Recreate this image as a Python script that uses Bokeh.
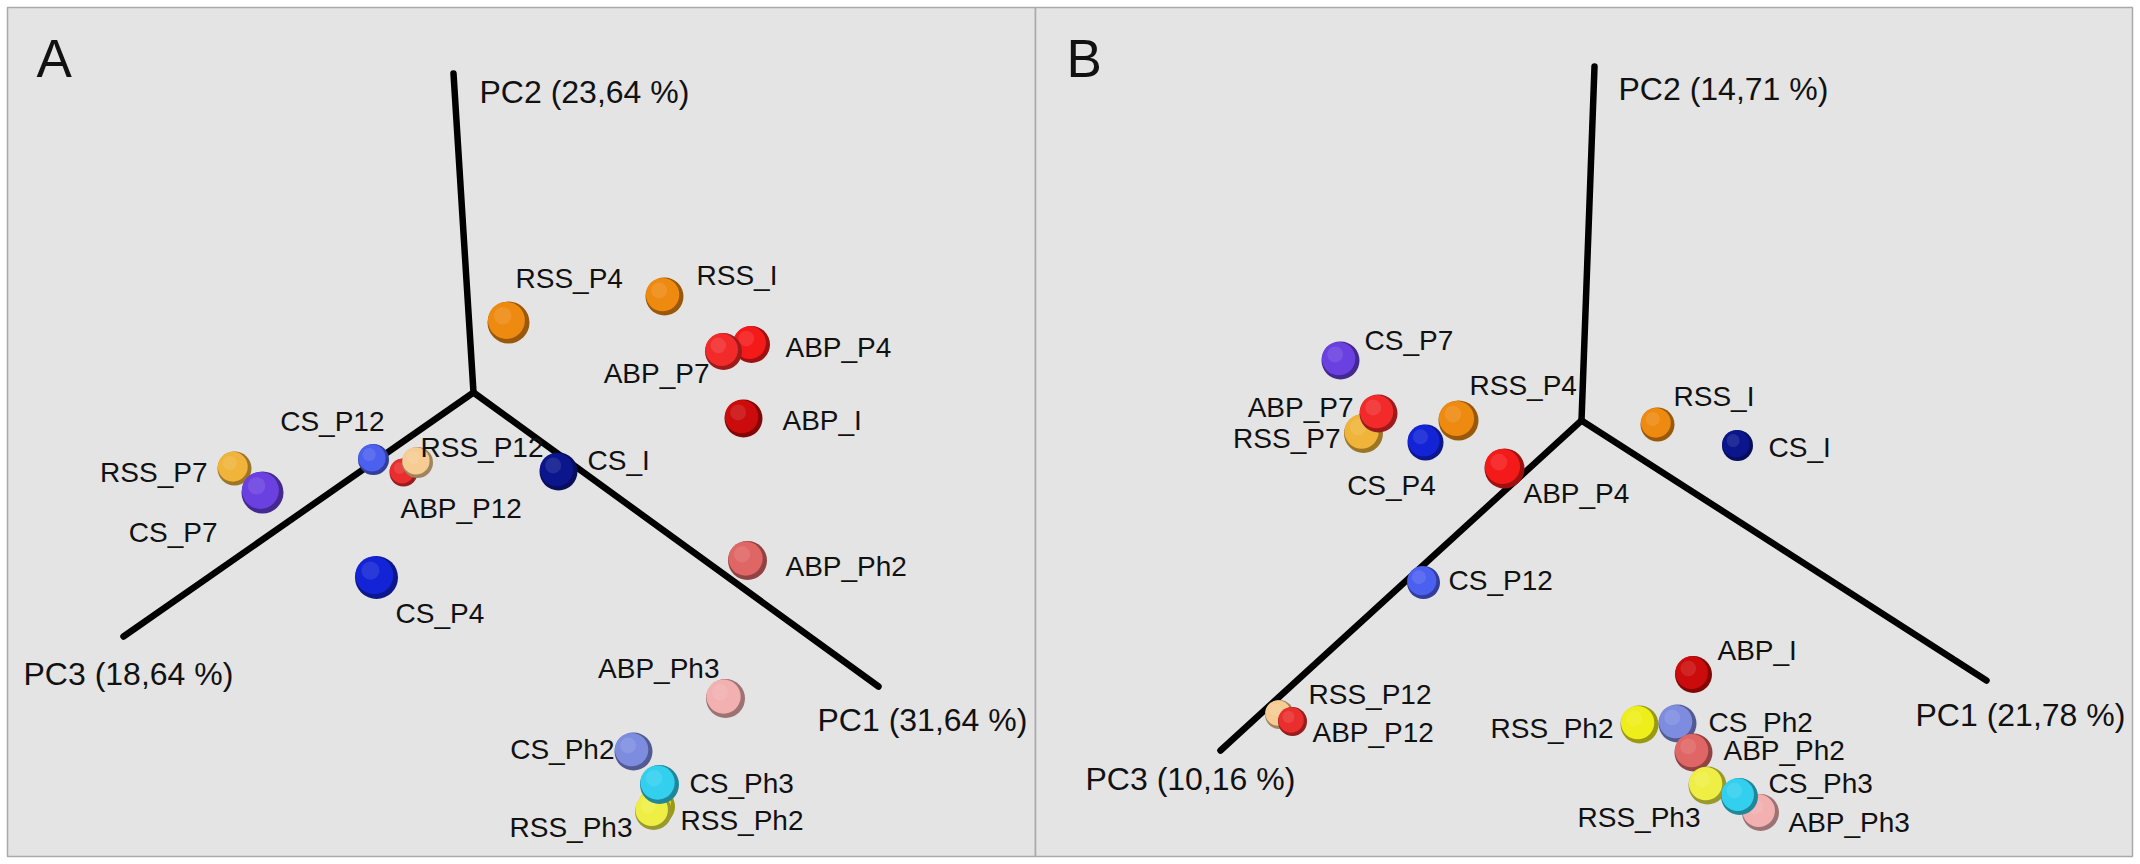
from bokeh.plotting import figure
from bokeh.models import Range1d, ColumnDataSource
from bokeh.core.properties import value
from bokeh.embed import file_html
from bokeh.resources import INLINE

# ---------------- data (projected PCoA positions) ----------------
# Panel A
samples_a = ["RSS_P7", "CS_P7", "CS_P12", "ABP_P12", "RSS_P12", "CS_P4", "CS_I", "RSS_P4",
             "RSS_I", "ABP_P4", "ABP_P7", "ABP_I", "ABP_Ph2", "ABP_Ph3", "CS_Ph2", "RSS_Ph2",
             "RSS_Ph3", "CS_Ph3"]
x_a = [234, 262, 373, 403, 417, 376, 558, 508, 664, 751, 723, 743, 747, 725, 633, 656, 653, 659]
y_a = [468, 492, 459, 472, 462, 577, 471, 322, 296, 344, 351, 418, 560, 698, 751, 806, 811, 784]
axis_names_a = ["PC1 (31,64 %)", "PC2 (23,64 %)", "PC3 (18,64 %)"]
origin_a = (473, 392)
axis_end_x_a = [878, 453, 123]
axis_end_y_a = [686, 73, 636]

# Panel B
samples_b = ["CS_P7", "RSS_P7", "ABP_P7", "CS_P4", "RSS_P4", "ABP_P4", "RSS_I", "CS_I", "CS_P12",
             "ABP_I", "RSS_P12", "ABP_P12", "RSS_Ph2", "CS_Ph2", "ABP_Ph2", "RSS_Ph3", "ABP_Ph3",
             "CS_Ph3"]
x_b = [1340, 1363, 1378, 1425, 1458, 1504, 1657, 1737, 1423, 1693, 1279, 1292, 1639, 1677, 1693,
       1707, 1760, 1739]
y_b = [360, 433, 413, 442, 420, 468, 424, 445, 582, 674, 714, 721, 724, 723, 752, 785, 812, 796]
axis_names_b = ["PC1 (21,78 %)", "PC2 (14,71 %)", "PC3 (10,16 %)"]
origin_b = (1581, 420)
axis_end_x_b = [1986, 1594, 1220]
axis_end_y_b = [680, 66, 750]

# ---------------- styles ----------------
sample_colors = {
    "ABP_I": "#cc0c0c", "ABP_P4": "#f51a1a", "ABP_P7": "#f22a2a", "ABP_P12": "#ea2d2d",
    "ABP_Ph2": "#e06666", "ABP_Ph3": "#f3b0b0",
    "CS_I": "#0c168c", "CS_P4": "#1224d6", "CS_P7": "#6a40e0", "CS_P12": "#4c60f0",
    "CS_Ph2": "#7e8ce0", "CS_Ph3": "#32d0ee",
    "RSS_I": "#ee8a10", "RSS_P4": "#ee8a10", "RSS_P7": "#f0b43a", "RSS_P12": "#f6cc92",
    "RSS_Ph2": "#eeee1a", "RSS_Ph3": "#eeee44",
}
size_a = [34, 42, 31, 28, 31, 43, 38, 42, 38, 37, 37, 38, 39, 39, 38, 37, 37, 39]
size_b = [38, 39, 38, 36, 40, 40, 34, 31, 33, 37, 29, 29, 38, 38, 38, 38, 37, 37]
# label placement (offset from sphere centre in px, alignment)
lab_a = [(-27, 4, "right"), (-45, 40, "right"), (11, -38, "right"), (-3, 36, "left"),
         (3, -15, "left"), (19, 36, "left"), (29, -11, "left"), (7, -44, "left"),
         (32, -21, "left"), (34, 3, "left"), (-14, 22, "right"), (39, 2, "left"),
         (38, 6, "left"), (-6, -30, "right"), (-19, -2, "right"), (24, 14, "left"),
         (-21, 16, "right"), (30, -1, "left")]
lab_b = [(24, -20, "left"), (-23, 5, "right"), (-25, -6, "right"), (-34, 43, "center"),
         (11, -35, "left"), (19, 25, "left"), (16, -28, "left"), (31, 2, "left"),
         (25, -2, "left"), (24, -24, "left"), (29, -20, "left"), (20, 11, "left"),
         (-26, 4, "right"), (31, -1, "left"), (30, -2, "left"), (-7, 32, "right"),
         (28, 10, "left"), (29, -13, "left")]
axis_lab_a = [(817, 719), (479, 91), (23, 673)]
axis_lab_b = [(1915, 714), (1618, 88), (1085, 778)]
panel_letters = [("A", 36, 58), ("B", 1066, 58)]
panel_left = [7, 1035]
panel_right = [1035, 2132]
panel_top = [7, 7]
panel_bottom = [856, 856]

FONT = value("Liberation Sans")
BG = "#e4e4e4"
FRAME = "#a9a9a9"


def shade(hex_color, f):
    h = hex_color.lstrip("#")
    r, g, b = (int(h[i:i + 2], 16) for i in (0, 2, 4))
    if f < 1:
        r, g, b = (int(c * f) for c in (r, g, b))
    else:
        t = f - 1
        r, g, b = (int(c + (255 - c) * t) for c in (r, g, b))
    return "#%02x%02x%02x" % (r, g, b)


W, H = 2136, 860
p = figure(width=W, height=H, output_backend="svg", toolbar_location=None,
           x_range=Range1d(0, W), y_range=Range1d(H, 0),
           min_border=0, min_border_left=0, min_border_right=0,
           min_border_top=0, min_border_bottom=0)
p.xaxis.visible = False
p.yaxis.visible = False
p.grid.visible = False
p.background_fill_color = "white"
p.border_fill_color = "white"
p.outline_line_color = None

# panel frames
p.quad(left=panel_left, right=panel_right, top=panel_top, bottom=panel_bottom,
       fill_color=BG, line_color=FRAME, line_width=1.5)


def draw_panel(samples, xs, ys, sizes, labs, origin, ex, ey, anames, alab):
    # axes arms
    p.segment(x0=[origin[0]] * 3, y0=[origin[1]] * 3, x1=ex, y1=ey,
              line_color="#000000", line_width=6.5, line_cap="round")
    p.text(x=[a[0] for a in alab], y=[a[1] for a in alab], text=anames,
           text_font=FONT, text_font_size="32px", text_color="#111111",
           text_align="left", text_baseline="middle")
    # spheres: interleave edge / body / highlight per sample so overlaps keep depth order
    sx, sy, ss, sc, sa = [], [], [], [], []
    for name, x, y, d in zip(samples, xs, ys, sizes):
        c = sample_colors[name]
        sx += [x, x - 0.05 * d, x - 0.14 * d]
        sy += [y, y - 0.05 * d, y - 0.16 * d]
        ss += [d, d * 0.88, d * 0.42]
        sc += [shade(c, 0.65), c, shade(c, 1.3)]
        sa += [1.0, 1.0, 0.35]
    src = ColumnDataSource(dict(x=sx, y=sy, s=ss, c=sc, a=sa))
    p.scatter(x="x", y="y", size="s", fill_color="c", fill_alpha="a",
              line_color=None, marker="circle", source=src)
    # labels
    for align in ("left", "right", "center"):
        idx = [i for i, l in enumerate(labs) if l[2] == align]
        if not idx:
            continue
        p.text(x=[xs[i] + labs[i][0] for i in idx], y=[ys[i] + labs[i][1] for i in idx],
               text=[samples[i] for i in idx], text_font=FONT, text_font_size="28px",
               text_color="#111111", text_align=align, text_baseline="middle")


draw_panel(samples_a, x_a, y_a, size_a, lab_a, origin_a, axis_end_x_a, axis_end_y_a,
           axis_names_a, axis_lab_a)
draw_panel(samples_b, x_b, y_b, size_b, lab_b, origin_b, axis_end_x_b, axis_end_y_b,
           axis_names_b, axis_lab_b)

p.text(x=[l[1] for l in panel_letters], y=[l[2] for l in panel_letters],
       text=[l[0] for l in panel_letters], text_font=FONT, text_font_size="53px",
       text_color="#111111", text_align="left", text_baseline="middle")

open("out.html", "w").write(file_html(p, INLINE))
